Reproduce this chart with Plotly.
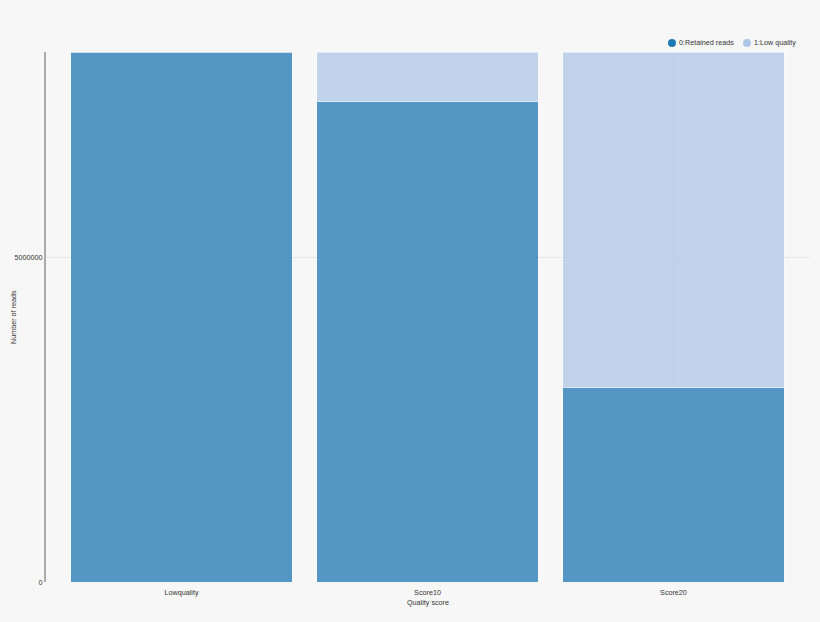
import plotly.graph_objects as go

categories = ["Lowquality", "Score10", "Score20"]
retained = [8154000, 7385000, 2985000]
low_quality = [0, 769000, 5169000]
series_names = ["0:Retained reads", "1:Low quality"]
colors = ["#1f77b4", "#aec7e8"]
y_ticks = [0, 5000000]

W, H = 820, 622
ML, MR, MT, MB = 46, 10, 52, 40
pw, ph = W - ML - MR, H - MT - MB
FS = 7.2

def px_x(p):
    return (p - ML) / pw

def px_y(p):
    return (H - MB - p) / ph

fig = go.Figure()
for name, vals, col in zip(series_names, [retained, low_quality], colors):
    fig.add_trace(go.Bar(
        x=categories, y=vals, name=name, marker_color=col, opacity=0.75,
        marker_line=dict(color="rgba(255,255,255,0.5)", width=1),
        showlegend=False,
    ))

# custom legend (circle + label) at the top right
legend_px = [672, 747]
legend_y = 43
shapes, annotations = [], []
for name, col, cx in zip(series_names, colors, legend_px):
    shapes.append(dict(type="circle", xref="paper", yref="paper",
                       x0=px_x(cx - 4), x1=px_x(cx + 4),
                       y0=px_y(legend_y + 4), y1=px_y(legend_y - 4),
                       fillcolor=col, line=dict(width=0)))
    annotations.append(dict(text=name, xref="paper", yref="paper",
                            x=px_x(cx + 5), y=px_y(legend_y), xanchor="left",
                            yanchor="middle", showarrow=False,
                            font=dict(size=FS, color="#333")))

# y-axis title as rotated annotation
annotations.append(dict(text="Number of reads", xref="paper", yref="paper",
                        x=px_x(13), y=0.5, xanchor="center", yanchor="middle",
                        textangle=-90, showarrow=False,
                        font=dict(size=FS, color="#333")))

fig.update_layout(
    barmode="stack",
    bargap=0.1,
    width=W, height=H,
    margin=dict(l=ML, r=MR, t=MT, b=MB),
    paper_bgcolor="#f7f7f7",
    plot_bgcolor="#f7f7f7",
    font=dict(family="Liberation Sans, Arial, sans-serif", size=FS, color="#333"),
    showlegend=False,
    shapes=shapes,
    annotations=annotations,
    xaxis=dict(
        title=dict(text="Quality score", font=dict(size=FS), standoff=4),
        range=[-0.551, 2.555], showgrid=True, gridcolor="#ececec",
        zeroline=False, ticks="outside", ticklen=3, tickcolor="rgba(0,0,0,0)",
        showline=False, automargin=False,
    ),
    yaxis=dict(
        range=[0, 8154000], tickvals=y_ticks, ticktext=[str(v) for v in y_ticks],
        showgrid=True, gridcolor="#e6e6e6", zeroline=False, automargin=False,
        showline=True, linecolor="#aaaaaa", linewidth=2, ticks="",
    ),
)

fig.write_html(
    "out.html",
    config={"displayModeBar": False},
    post_script="document.body.style.margin='0';document.body.style.background='#f7f7f7';",
)
